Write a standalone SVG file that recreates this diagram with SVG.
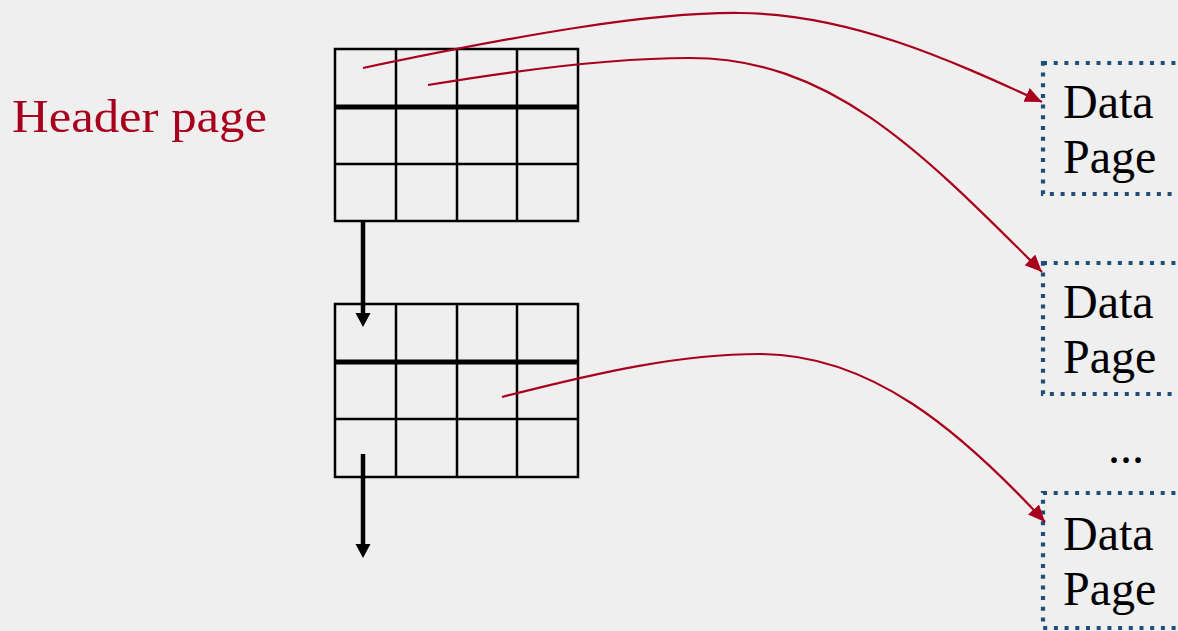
<svg xmlns="http://www.w3.org/2000/svg" width="1178" height="631" viewBox="0 0 1178 631">
<style>
.grid{fill:none;stroke:#000;stroke-width:2.5}
.thick{stroke:#000;stroke-width:5}
.red{fill:none;stroke:#A8001C;stroke-width:2.2}
.blk{fill:none;stroke:#000;stroke-width:4.5}
.dp{fill:none;stroke:#1F4E79;stroke-width:4.2;stroke-dasharray:4 6.7}
.t{font-family:"Liberation Serif",serif;font-size:48px;fill:#000}
.h{font-family:"Liberation Serif",serif;font-size:46px;fill:#A8001C}
</style>
<defs>
<marker id="ra" markerUnits="userSpaceOnUse" markerWidth="20" markerHeight="16" refX="17" refY="7.5" orient="auto">
<path d="M0,0 L17,7.5 L0,15 z" fill="#A8001C"/>
</marker>
</defs>
<rect width="1178" height="631" fill="#EFEFEF"/>
<text class="h" x="12" y="132" textLength="255" lengthAdjust="spacingAndGlyphs">Header page</text>
<g id="page1">
<rect class="grid" x="335" y="49" width="243" height="172"/>
<path class="grid" d="M396,49V221M457,49V221M517,49V221M335,164H578"/>
<path class="thick" d="M335,107H578"/>
</g>
<g id="page2">
<rect class="grid" x="335" y="304" width="243" height="173"/>
<path class="grid" d="M396,304V477M457,304V477M517,304V477M335,419H578"/>
<path class="thick" d="M335,362H578"/>
</g>
<g id="data1">
<rect class="dp" x="1043" y="63" width="170" height="131"/>
<text class="t" x="1063" y="118">Data</text>
<text class="t" x="1063" y="173">Page</text>
</g>
<g id="data2">
<rect class="dp" x="1043" y="263" width="170" height="131"/>
<text class="t" x="1063" y="318">Data</text>
<text class="t" x="1063" y="373">Page</text>
</g>
<text class="t" x="1108" y="463">...</text>
<g id="data3">
<rect class="dp" x="1043" y="493" width="170" height="135"/>
<text class="t" x="1063" y="550">Data</text>
<text class="t" x="1063" y="605">Page</text>
</g>
<g id="connectors">
<path class="blk" d="M363,221V314"/>
<path d="M355.5,313 L370.5,313 L363,327 z" fill="#000"/>
<path class="blk" d="M363,454V545"/>
<path d="M355.5,544 L370.5,544 L363,558 z" fill="#000"/>
<path class="red" d="M363,68 C520,35 650,12 740,13 C850,14 950,60 1042,102" marker-end="url(#ra)"/>
<path class="red" d="M428,85 C530,68 620,58 690,58 C830,58 920,150 1042,272" marker-end="url(#ra)"/>
<path class="red" d="M502,397 C600,372 680,354 760,354 C870,354 960,430 1045,522" marker-end="url(#ra)"/>
</g>
</svg>
